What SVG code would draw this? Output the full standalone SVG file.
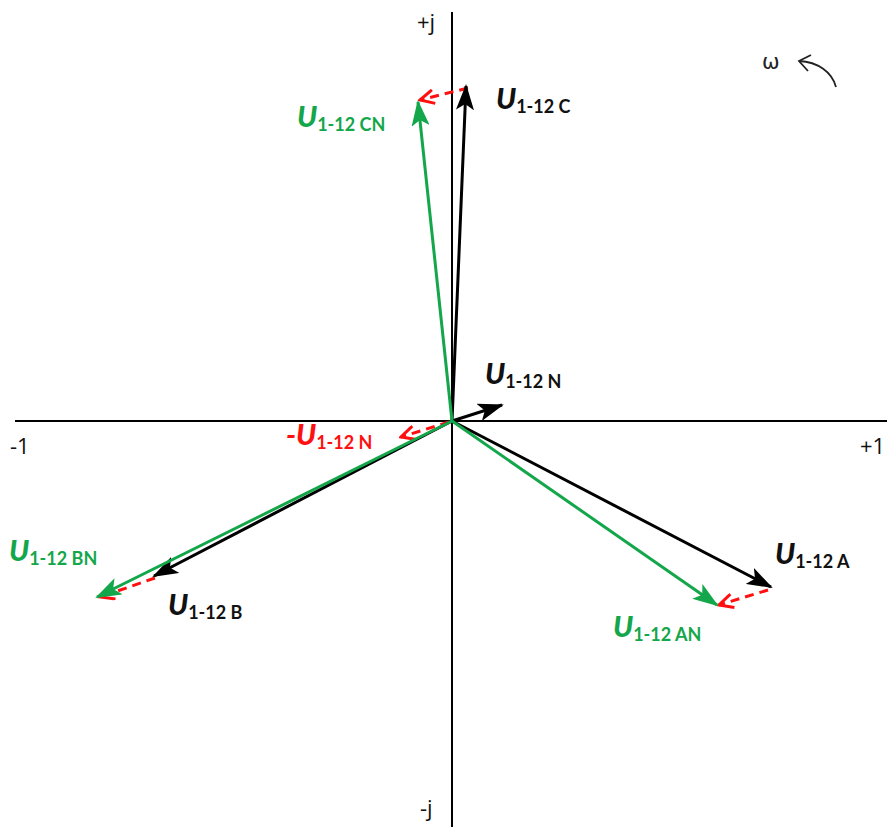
<svg xmlns="http://www.w3.org/2000/svg" width="887" height="827" viewBox="0 0 887 827">
<style>
  .axis{stroke:#000;stroke-width:2;fill:none}
  .blk{stroke:#000;stroke-width:3;fill:none}
  .grn{stroke:#14a64a;stroke-width:3;fill:none}
  .red{stroke:#ff1010;stroke-width:3;fill:none;stroke-dasharray:9 6}
  .lbl{font-family:Lato,"Open Sans","Liberation Sans",sans-serif;font-weight:900}
  .big{font-size:29px;font-style:italic}
  .sub{font-size:18px;font-weight:bold}
  .ax{font-family:"Open Sans","Liberation Sans",sans-serif;font-size:22px;fill:#111}
  .kB{fill:#111}
  .kG{fill:#14a64a}
  .kR{fill:#ff1010}
</style>
<defs>
  <marker id="hb" markerUnits="userSpaceOnUse" viewBox="0 0 26 18" refX="24" refY="9" markerWidth="26" markerHeight="18" orient="auto">
    <path d="M0,0 L26,9 L0,18 L6,9 z" fill="#000"/>
  </marker>
  <marker id="hg" markerUnits="userSpaceOnUse" viewBox="0 0 26 18" refX="24" refY="9" markerWidth="26" markerHeight="18" orient="auto">
    <path d="M0,0 L26,9 L0,18 L6,9 z" fill="#14a64a"/>
  </marker>
  <marker id="hr" markerUnits="userSpaceOnUse" viewBox="0 0 18 16" refX="16" refY="8" markerWidth="18" markerHeight="16" orient="auto">
    <path d="M2,1 L16,8 L2,15" fill="none" stroke="#ff1010" stroke-width="3"/>
  </marker>
</defs>

<g id="axes">
  <line class="axis" x1="15" y1="421" x2="887" y2="421"/>
  <line class="axis" x1="452" y1="12" x2="452" y2="827"/>
  <text class="ax" x="417" y="30">+j</text>
  <text class="ax" x="420" y="816">-j</text>
  <text class="ax" x="10" y="454">-1</text>
  <text class="ax" x="860" y="454">+1</text>
</g>

<g id="connectors">
  <!-- red correction vectors -->
  <line class="red" x1="468" y1="88" x2="420" y2="100" marker-end="url(#hr)"/>
  <line class="red" x1="449" y1="422" x2="401" y2="437" marker-end="url(#hr)"/>
  <line class="red" x1="768" y1="590" x2="719" y2="605" marker-end="url(#hr)"/>
  <line class="red" x1="155" y1="578" x2="100" y2="597" marker-end="url(#hr)"/>
  <!-- black vectors -->
  <line class="blk" x1="452" y1="421" x2="466" y2="86" marker-end="url(#hb)"/>
  <line class="blk" x1="452" y1="421" x2="502" y2="405" marker-end="url(#hb)"/>
  <line class="blk" x1="452" y1="421" x2="771" y2="587" marker-end="url(#hb)"/>
  <line class="blk" x1="452" y1="421" x2="154" y2="576" marker-end="url(#hb)"/>
  <!-- green vectors -->
  <line class="grn" x1="452" y1="421" x2="418" y2="102" marker-end="url(#hg)"/>
  <line class="grn" x1="452" y1="421" x2="717" y2="605" marker-end="url(#hg)"/>
  <line class="grn" x1="452" y1="421" x2="97" y2="597" marker-end="url(#hg)"/>
</g>

<g id="omega">
  <text x="762" y="69" font-family="'DejaVu Sans',sans-serif" font-size="21" fill="#222">ω</text>
  <path d="M836,87 C832,72 818,62 799,61" fill="none" stroke="#222" stroke-width="1.8"/>
  <path d="M811,55 L799,61 L808,71" fill="none" stroke="#222" stroke-width="1.8"/>
</g>

<g id="lbl-C"><text class="lbl kB" x="496" y="109"><tspan class="big">U</tspan><tspan class="sub" dy="4">1-12 C</tspan></text></g>
<g id="lbl-CN"><text class="lbl kG" x="297" y="127"><tspan class="big">U</tspan><tspan class="sub" dy="4">1-12 CN</tspan></text></g>
<g id="lbl-N"><text class="lbl kB" x="485" y="384"><tspan class="big">U</tspan><tspan class="sub" dy="4">1-12 N</tspan></text></g>
<g id="lbl-mN"><text class="lbl kR" x="286" y="445"><tspan class="big">-U</tspan><tspan class="sub" dy="4">1-12 N</tspan></text></g>
<g id="lbl-A"><text class="lbl kB" x="775" y="564"><tspan class="big">U</tspan><tspan class="sub" dy="4">1-12 A</tspan></text></g>
<g id="lbl-AN"><text class="lbl kG" x="613" y="637"><tspan class="big">U</tspan><tspan class="sub" dy="4">1-12 AN</tspan></text></g>
<g id="lbl-BN"><text class="lbl kG" x="9" y="561"><tspan class="big">U</tspan><tspan class="sub" dy="4">1-12 BN</tspan></text></g>
<g id="lbl-B"><text class="lbl kB" x="168" y="615"><tspan class="big">U</tspan><tspan class="sub" dy="4">1-12 B</tspan></text></g>
</svg>
